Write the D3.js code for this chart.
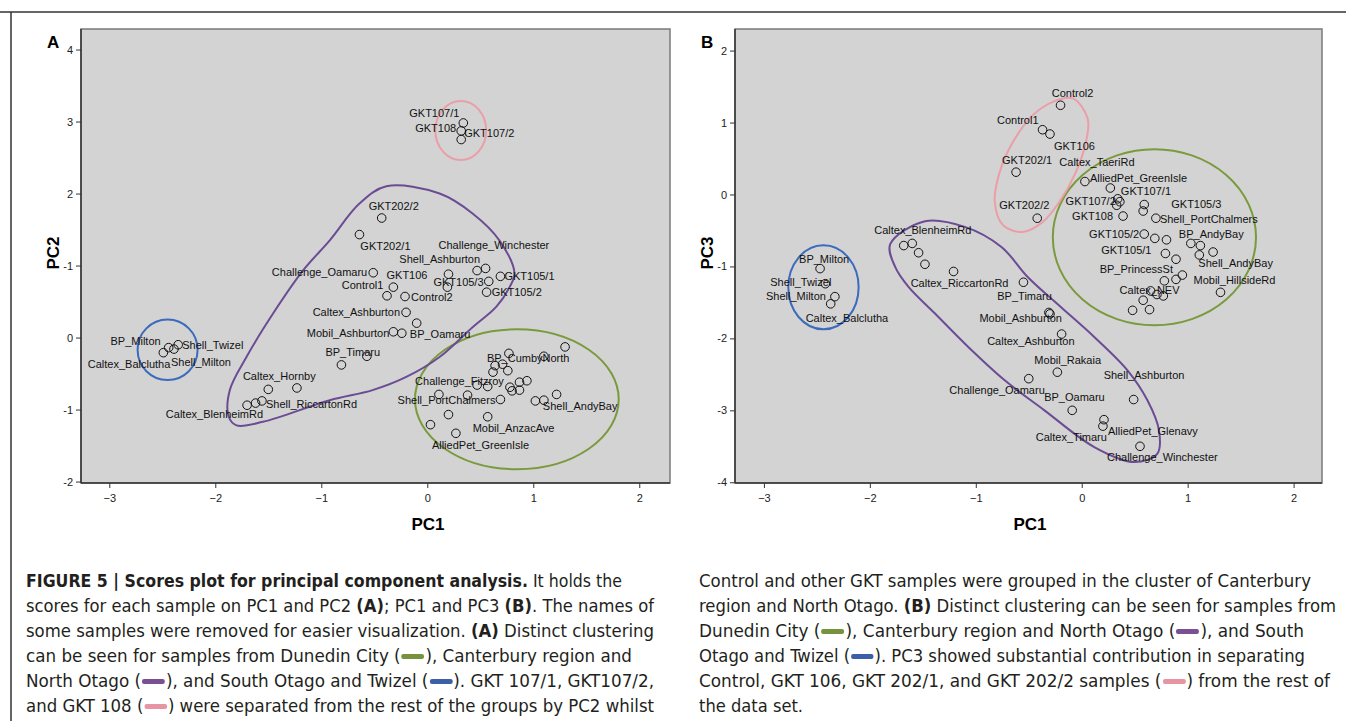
<!DOCTYPE html>
<html>
<head>
<meta charset="utf-8">
<script src="https://cdn.jsdelivr.net/npm/d3@7"></script>
<style>
  body { margin: 0; background: #fff; }
  #fig { position: absolute; left: 0; top: 0; }
  .cap { position: absolute; white-space: nowrap; font-family: "Liberation Sans Narrow", "DejaVu Sans Condensed", Roboto, sans-serif;
         font-stretch: condensed; font-size: 18px; line-height: 25px; color: #231f20; transform-origin: 0 50%; }
  .sw { display: inline-block; width: 22px; height: 5px; border-radius: 2px; vertical-align: middle; margin: 0 1px; }
</style>
</head>
<body>
<div id="fig"></div>
<script>
// ---- panel A: PC1 vs PC2 scores ----
var namesA = ["BP_Milton", "Caltex_Balclutha", "Shell_Milton", "Shell_Twizel", "Caltex_Hornby", "", "Shell_RiccartonRd", "", "Caltex_BlenheimRd",
  "BP_Timaru", "", "Mobil_Ashburton", "BP_Oamaru", "", "Caltex_Ashburton", "Control1", "", "Control2", "Challenge_Oamaru", "GKT202/1", "GKT202/2",
  "GKT106", "GKT105/3", "Shell_Ashburton", "Challenge_Winchester", "GKT105/1", "", "GKT105/2", "GKT107/1", "GKT108", "GKT107/2",
  "", "BP_CumbyNorth", "", "", "", "", "", "", "", "Challenge_Fitzroy", "", "", "", "", "", "", "Shell_PortChalmers", "", "Shell_AndyBay", "",
  "", "Mobil_AnzacAve", "", "AlliedPet_GreenIsle"];
var pc1A = [-2.44, -2.49, -2.39, -2.35, -1.50, -1.23, -1.56, -1.62, -1.70,
  -0.81, -0.57, -0.32, -0.24, -0.10, -0.20, -0.32, -0.38, -0.21, -0.51, -0.64, -0.43,
  0.20, 0.19, 0.47, 0.55, 0.69, 0.58, 0.56, 0.34, 0.32, 0.32,
  1.30, 0.77, 1.10, 0.71, 0.64, 0.76, 0.62, 0.94, 0.87, 0.47, 0.57, 0.78, 0.80, 0.87, 0.11, 0.38, 0.69, 1.02, 1.10, 1.22,
  0.20, 0.57, 0.03, 0.27];
var pc2A = [-0.14, -0.21, -0.16, -0.10, -0.72, -0.70, -0.88, -0.91, -0.94,
  -0.38, -0.26, 0.08, 0.06, 0.20, 0.35, 0.70, 0.58, 0.57, 0.90, 1.43, 1.66,
  0.88, 0.70, 0.93, 0.96, 0.85, 0.78, 0.63, 2.98, 2.87, 2.75,
  -0.13, -0.22, -0.26, -0.37, -0.39, -0.46, -0.48, -0.60, -0.62, -0.66, -0.68, -0.69, -0.74, -0.73, -0.79, -0.80, -0.86, -0.88, -0.87, -0.79,
  -1.07, -1.10, -1.21, -1.33];

// ---- panel B: PC1 vs PC3 scores ----
var namesB = ["BP_Milton", "Shell_Twizel", "Shell_Milton", "Caltex_Balclutha", "", "Caltex_BlenheimRd", "", "", "", "Caltex_RiccartonRd",
  "BP_Timaru", "Mobil_Ashburton", "Caltex_Ashburton", "Mobil_Rakaia", "Challenge_Oamaru", "Shell_Ashburton", "BP_Oamaru", "AlliedPet_Glenavy",
  "Caltex_Timaru", "Challenge_Winchester", "Control2", "Control1", "GKT106", "GKT202/1", "GKT202/2",
  "AlliedPet_GreenIsle", "Caltex_TaeriRd", "GKT107/2", "GKT107/1", "", "GKT105/3", "", "GKT108", "Shell_PortChalmers", "GKT105/2", "", "",
  "BP_AndyBay", "", "", "Shell_AndyBay", "GKT105/1", "", "", "BP_PrincessSt", "", "Mobil_HillsideRd", "Caltex_NEV", "", "", "", "", ""];
var pc1B = [-2.47, -2.42, -2.33, -2.37, -1.68, -1.60, -1.54, -1.48, -1.21, -0.55,
  -0.31, -0.30, -0.19, -0.23, -0.50, 0.49, -0.09, 0.21,
  0.20, 0.55, -0.20, -0.37, -0.30, -0.62, -0.42,
  0.03, 0.27, 0.34, 0.36, 0.33, 0.59, 0.58, 0.39, 0.70, 0.59, 0.69, 0.80,
  1.03, 1.12, 1.24, 1.11, 0.79, 0.89, 0.95, 0.89, 0.78, 1.31, 0.65, 0.71, 0.77, 0.58, 0.48, 0.64];
var pc3B = [-1.03, -1.24, -1.42, -1.52, -0.71, -0.68, -0.81, -0.97, -1.07, -1.22,
  -1.64, -1.66, -1.94, -2.47, -2.56, -2.85, -3.00, -3.13,
  -3.22, -3.50, 1.24, 0.90, 0.84, 0.31, -0.33,
  0.18, 0.09, -0.06, -0.10, -0.15, -0.14, -0.23, -0.30, -0.33, -0.55, -0.61, -0.63,
  -0.68, -0.71, -0.80, -0.84, -0.82, -0.90, -1.12, -1.18, -1.20, -1.36, -1.34, -1.39, -1.41, -1.47, -1.61, -1.60];

var xTicks = [-3, -2, -1, 0, 1, 2];
var yTicksA = [-2, -1, 0, 1, 2, 3, 4];
var yTickTextA = ["-2", "-1", "0", "-1", "2", "3", "4"];   // printed this way in the figure
var yTicksB = [-4, -3, -2, -1, 0, 1, 2];

// cluster rings (data units)
var ringColors = { green: "#7a9a3c", purple: "#6b4c94", blue: "#3b6bbd", pink: "#eb9ea8" };
var ellipsesA = [
  { col: "blue", cx: -2.45, cy: -0.17, rx: 0.283, ry: 0.42 },
  { col: "pink", cx: 0.316, cy: 2.875, rx: 0.24, ry: 0.41 },
  { col: "green", cx: 0.845, cy: -0.857, rx: 0.961, ry: 0.972 }
];
var ellipsesB = [
  { col: "blue", cx: -2.438, cy: -1.29, rx: 0.332, ry: 0.584 },
  { col: "green", cx: 0.686, cy: -0.594, rx: 0.959, ry: 1.224 }
];
var purpleOutlineA = [[-0.386, 2.10], [0.116, 2.00], [0.43, 1.72], [0.68, 1.35], [0.823, 0.89], [0.776, 0.70], [0.65, 0.425],
  [0.43, 0.147], [0.116, -0.27], [-0.198, -0.547], [-0.516, -0.73], [-0.92, -0.87], [-1.55, -1.17], [-1.80, -1.22],
  [-1.873, -1.10], [-1.863, -0.73], [-1.706, -0.27], [-1.455, 0.333], [-1.17, 0.935], [-0.92, 1.35], [-0.64, 1.86]];
var purpleOutlineB = [[-1.479, -0.371], [-1.103, -0.45], [-0.758, -0.729], [-0.508, -1.15], [-0.195, -1.567], [0.118, -1.98],
  [0.432, -2.444], [0.62, -2.861], [0.729, -3.278], [0.714, -3.602], [0.494, -3.719], [0.118, -3.51], [-0.352, -3.0],
  [-0.727, -2.583], [-1.071, -2.12], [-1.385, -1.655], [-1.635, -1.285], [-1.761, -1.007], [-1.808, -0.691]];
var pinkOutlineB = [[-0.085, 1.335], [0.056, 1.057], [0.040, 0.732], [-0.054, 0.314], [-0.211, -0.103], [-0.367, -0.381],
  [-0.555, -0.52], [-0.742, -0.427], [-0.821, -0.103], [-0.774, 0.314], [-0.648, 0.732], [-0.461, 1.103], [-0.273, 1.288]];

// label placement: anchor, dx, dy in px from the point
var labelPosA = {
  "BP_Milton": ["end", -8, -6], "Caltex_Balclutha": ["end", 7, 11], "Shell_Milton": ["start", -3, 13], "Shell_Twizel": ["start", 4, 0],
  "Caltex_Hornby": ["middle", 11, -13], "Shell_RiccartonRd": ["start", 4, 3], "Caltex_BlenheimRd": ["end", 16, 9],
  "BP_Timaru": ["start", -16, -13], "Mobil_Ashburton": ["end", -4, 1], "BP_Oamaru": ["start", 8, 1], "Caltex_Ashburton": ["end", -6, 0],
  "Control1": ["end", -10, -2], "Control2": ["start", 6, 1], "Challenge_Oamaru": ["end", -6, -1], "GKT202/1": ["middle", 26, 12],
  "GKT202/2": ["middle", 12, -12], "GKT106": ["end", -21, 1], "GKT105/3": ["start", -14, -5], "Shell_Ashburton": ["end", 3, -11],
  "Challenge_Winchester": ["start", -47, -23], "GKT105/1": ["start", 4, 0], "GKT105/2": ["start", 5, 0], "GKT107/1": ["middle", -29, -10],
  "GKT108": ["end", -5, -3], "GKT107/2": ["start", 3, -6], "BP_CumbyNorth": ["start", -22, 5], "Challenge_Fitzroy": ["start", -62, -4],
  "Shell_PortChalmers": ["end", -5, 1], "Shell_AndyBay": ["start", -1, 6], "Mobil_AnzacAve": ["start", -15, 11],
  "AlliedPet_GreenIsle": ["start", -24, 12]
};
var labelPosB = {
  "BP_Milton": ["start", -21, -9], "Shell_Twizel": ["end", 6, -2], "Shell_Milton": ["end", -9, -1], "Caltex_Balclutha": ["start", -25, 14],
  "Caltex_BlenheimRd": ["start", -38, -13], "Caltex_RiccartonRd": ["end", -15, 1], "BP_Timaru": ["end", 3, -16],
  "Mobil_Ashburton": ["end", 12, 4], "Caltex_Ashburton": ["end", 13, 7], "Mobil_Rakaia": ["start", -23, -12],
  "Challenge_Oamaru": ["end", 16, 11], "Shell_Ashburton": ["start", -30, -24], "BP_Oamaru": ["start", -28, -13],
  "AlliedPet_Glenavy": ["start", 4, 11], "Caltex_Timaru": ["end", 4, 11], "Challenge_Winchester": ["start", -33, 11],
  "Control2": ["middle", 12, -12], "Control1": ["end", -4, -10], "GKT106": ["start", 4, 12], "GKT202/1": ["start", -14, -12],
  "GKT202/2": ["start", -38, -13], "AlliedPet_GreenIsle": ["start", 5, -3], "Caltex_TaeriRd": ["start", -51, -26],
  "GKT107/2": ["end", -2, 2], "GKT107/1": ["start", 1, -11], "GKT105/3": ["start", 27, 0], "GKT108": ["end", -10, 0],
  "Shell_PortChalmers": ["start", 4, 1], "GKT105/2": ["end", -5, 0], "BP_AndyBay": ["start", -12, -9], "Shell_AndyBay": ["start", -1, 8],
  "GKT105/1": ["end", -14, -3], "BP_PrincessSt": ["end", -3, -10], "Mobil_HillsideRd": ["start", -27, -12], "Caltex_NEV": ["start", -31, -1]
};

var W = 1346, H = 721;
var svg = d3.select("#fig").append("svg").attr("width", W).attr("height", H)
  .style("font-family", "'Liberation Sans', Arial, sans-serif");

// page rules
svg.append("line").attr("x1", 0).attr("x2", W).attr("y1", 12).attr("y2", 12).attr("stroke", "#333").attr("stroke-width", 1.5);
svg.append("line").attr("x1", 11).attr("x2", 11).attr("y1", 12).attr("y2", H).attr("stroke", "#333").attr("stroke-width", 1.5);

function panel(opt) {
  var x = d3.scaleLinear().domain(opt.xDom).range([opt.left, opt.right]);
  var y = d3.scaleLinear().domain(opt.yDom).range([483, 29]);
  var g = svg.append("g");

  g.append("rect").attr("x", opt.left).attr("y", 29).attr("width", opt.right - opt.left).attr("height", 454)
    .attr("fill", "#d3d3d3").attr("stroke", "#7a7a7a").attr("stroke-width", 1.5);

  var xAxis = d3.axisBottom(x).tickValues(xTicks).tickSize(5).tickPadding(6).tickFormat(d3.format("d"));
  var gx = g.append("g").attr("transform", "translate(0,483)").call(xAxis);
  var yAxis = d3.axisLeft(y).tickValues(opt.yTicks).tickSize(5)
    .tickFormat(function (d, i) { return opt.yText ? opt.yText[i] : d; });
  var gy = g.append("g").attr("transform", "translate(" + opt.left + ",0)").call(yAxis);
  [gx, gy].forEach(function (a) {
    a.select(".domain").attr("stroke", "#333").attr("stroke-width", 1.5);
    a.selectAll(".tick line").attr("stroke", "#333");
    a.selectAll(".tick text").attr("font-size", 11).attr("fill", "#222").attr("font-family", "'Liberation Sans', Arial, sans-serif");
  });
  gx.select(".domain").attr("d", "M" + opt.left + ",0H" + opt.right);
  gy.select(".domain").attr("d", "M0,29V483");

  // cluster rings
  var line = d3.line().x(function (d) { return x(d[0]); }).y(function (d) { return y(d[1]); })
    .curve(d3.curveCatmullRomClosed.alpha(0.5));
  opt.ellipses.forEach(function (e) {
    g.append("ellipse").attr("cx", x(e.cx)).attr("cy", y(e.cy))
      .attr("rx", x(e.cx + e.rx) - x(e.cx)).attr("ry", y(e.cy) - y(e.cy + e.ry))
      .attr("fill", "none").attr("stroke", ringColors[e.col]).attr("stroke-width", 2);
  });
  opt.outlines.forEach(function (o) {
    g.append("path").attr("d", line(o.pts)).attr("fill", "none")
      .attr("stroke", ringColors[o.col]).attr("stroke-width", 2);
  });

  var data = opt.names.map(function (n, i) { return { name: n, px: opt.xs[i], py: opt.ys[i] }; });
  g.selectAll(".pt").data(data).enter().append("circle").attr("class", "pt")
    .attr("cx", function (d) { return x(d.px); }).attr("cy", function (d) { return y(d.py); })
    .attr("r", 4.3).attr("fill", "none").attr("stroke", "#111").attr("stroke-width", 1);

  g.selectAll(".lab").data(data.filter(function (d) { return d.name && opt.labels[d.name]; })).enter()
    .append("text").attr("class", "lab")
    .attr("x", function (d) { return x(d.px) + opt.labels[d.name][1]; })
    .attr("y", function (d) { return y(d.py) + opt.labels[d.name][2]; })
    .attr("dy", "0.35em").attr("text-anchor", function (d) { return opt.labels[d.name][0]; })
    .attr("font-size", 11).attr("fill", "#111").text(function (d) { return d.name; });

  g.append("text").attr("x", opt.titleX).attr("y", 530).attr("text-anchor", "middle")
    .attr("font-size", 17).attr("font-weight", "bold").text("PC1");
  g.append("text").attr("transform", "translate(" + (opt.left - 22) + ",253) rotate(-90)").attr("text-anchor", "middle")
    .attr("font-size", 17).attr("font-weight", "bold").text(opt.yTitle);
  g.append("text").attr("x", opt.left - 34).attr("y", 48).attr("font-size", 17).attr("font-weight", "bold").text(opt.tag);
}

panel({ tag: "A", left: 81, right: 670, xDom: [-3.267, 2.29], yDom: [-2.02, 4.285], yTicks: yTicksA, yText: yTickTextA,
  names: namesA, xs: pc1A, ys: pc2A, labels: labelPosA, ellipses: ellipsesA,
  outlines: [{ col: "purple", pts: purpleOutlineA }], titleX: 428, yTitle: "PC2" });
panel({ tag: "B", left: 735, right: 1322, xDom: [-3.273, 2.268], yDom: [-4.01, 2.3], yTicks: yTicksB,
  names: namesB, xs: pc1B, ys: pc3B, labels: labelPosB, ellipses: ellipsesB,
  outlines: [{ col: "purple", pts: purpleOutlineB }, { col: "pink", pts: pinkOutlineB }], titleX: 1030, yTitle: "PC3" });

// ---- caption ----
var sw = {
  g: '<span class="sw" style="background:#76923c"></span>',
  p: '<span class="sw" style="background:#7b4f93"></span>',
  b: '<span class="sw" style="background:#3d5fa8"></span>',
  k: '<span class="sw" style="background:#e795a2"></span>'
};
var capLeft = [
  "<b>FIGURE 5 | Scores plot for principal component analysis.</b> It holds the",
  "scores for each sample on PC1 and PC2 <b>(A)</b>; PC1 and PC3 <b>(B)</b>. The names of",
  "some samples were removed for easier visualization. <b>(A)</b> Distinct clustering",
  "can be seen for samples from Dunedin City (" + sw.g + "), Canterbury region and",
  "North Otago (" + sw.p + "), and South Otago and Twizel (" + sw.b + "). GKT 107/1, GKT107/2,",
  "and GKT 108 (" + sw.k + ") were separated from the rest of the groups by PC2 whilst"
];
var capRight = [
  "Control and other GKT samples were grouped in the cluster of Canterbury",
  "region and North Otago. <b>(B)</b> Distinct clustering can be seen for samples from",
  "Dunedin City (" + sw.g + "), Canterbury region and North Otago (" + sw.p + "), and South",
  "Otago and Twizel (" + sw.b + "). PC3 showed substantial contribution in separating",
  "Control, GKT 106, GKT 202/1, and GKT 202/2 samples (" + sw.k + ") from the rest of",
  "the data set."
];
var capLeftEnd = [622, 654, 654, 632, 654, 654];
var capRightEnd = [1311, 1336, 1304, 1305, 1330, 803];

function caption(lines, x0, ends) {
  lines.forEach(function (t, i) {
    var div = d3.select("body").append("div").attr("class", "cap")
      .style("left", x0 + "px").style("top", (567.5 + i * 25) + "px").html(t);
    var w = div.node().getBoundingClientRect().width;
    div.style("transform", "scaleX(" + ((ends[i] - x0) / w) + ")");
  });
}
caption(capLeft, 26, capLeftEnd);
caption(capRight, 699, capRightEnd);
</script>
</body>
</html>
